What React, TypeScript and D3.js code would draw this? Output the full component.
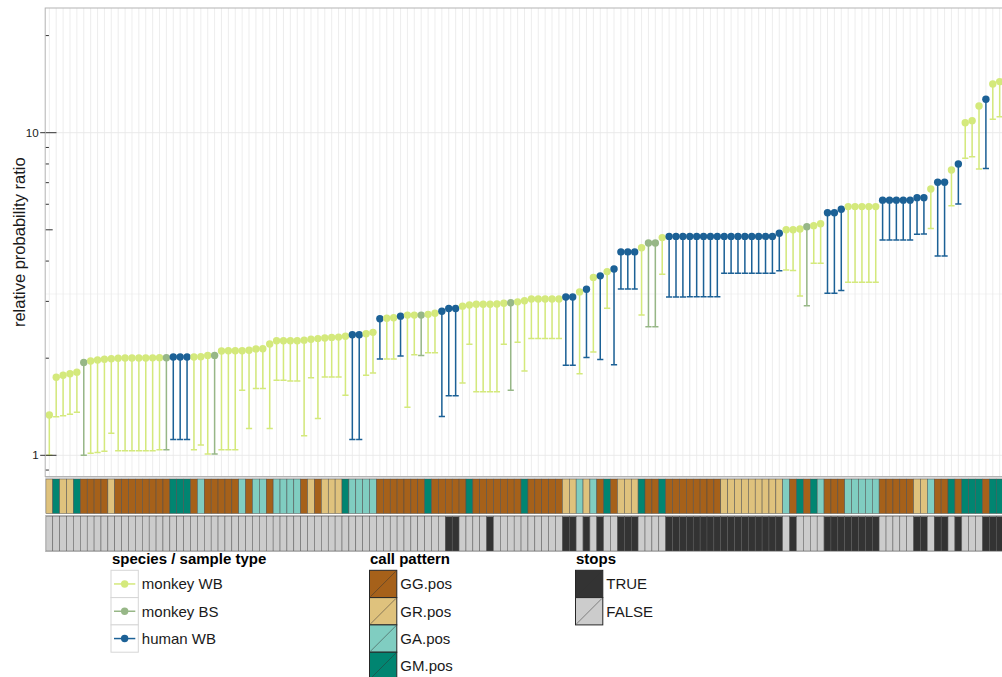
import * as d3 from "d3";

// ---- data ----
const speciesLevels = ["monkey WB", "monkey BS", "human WB"];
const speciesCodes = ["W", "B", "H"];
const speciesColors = ["#d4e97c", "#97b787", "#1c6196"];

const callLevels = ["GG.pos", "GR.pos", "GA.pos", "GM.pos"];
const callCodes = ["GG", "GR", "GA", "GM"];
const callColors = ["#a6611a", "#dfc27d", "#80cdc1", "#018571"];

const stopLevels = ["TRUE", "FALSE"];
const stopColors = ["#333333", "#cccccc"];

const yTickLabels = [1, 10];

const ratio = [
  1.333, 1.745, 1.77, 1.79, 1.81, 1.94, 1.96, 1.974, 1.984, 1.993,
  2.0, 2.003, 2.003, 2.003, 2.003, 2.005, 2.008, 2.007, 2.017, 2.017,
  2.017, 2.017, 2.02, 2.04, 2.04, 2.105, 2.11, 2.11, 2.11, 2.116,
  2.137, 2.14, 2.213, 2.266, 2.266, 2.265, 2.265, 2.275, 2.29, 2.3,
  2.31, 2.32, 2.325, 2.34, 2.365, 2.365, 2.38, 2.405, 2.65, 2.66,
  2.67, 2.7, 2.72, 2.72, 2.72, 2.735, 2.755, 2.795, 2.85, 2.85,
  2.9, 2.925, 2.94, 2.94, 2.94, 2.945, 2.96, 2.97, 2.99, 3.015,
  3.05, 3.05, 3.05, 3.05, 3.05, 3.095, 3.095, 3.21, 3.27, 3.56,
  3.6, 3.71, 3.78, 4.27, 4.27, 4.27, 4.4, 4.55, 4.55, 4.73,
  4.77, 4.77, 4.77, 4.77, 4.77, 4.77, 4.77, 4.77, 4.77, 4.77,
  4.77, 4.77, 4.77, 4.77, 4.77, 4.77, 4.88, 5.0, 5.0, 5.03,
  5.11, 5.15, 5.22, 5.65, 5.65, 5.79, 5.9, 5.9, 5.9, 5.9,
  5.9, 6.18, 6.18, 6.18, 6.18, 6.18, 6.29, 6.29, 6.69, 7.02,
  7.02, 7.66, 8.0, 10.74, 10.9, 12.1, 12.69, 14.16, 14.4,
];

const lower = [
  1.0, 1.317, 1.326, 1.34, 1.36, 1.0, 1.014, 1.02, 1.03, 1.17,
  1.033, 1.033, 1.033, 1.033, 1.033, 1.033, 1.04, 1.04, 1.12, 1.12,
  1.12, 1.04, 1.076, 1.01, 1.01, 1.04, 1.04, 1.04, 1.59, 1.21,
  1.61, 1.61, 1.21, 1.71, 1.71, 1.7, 1.7, 1.15, 1.74, 1.3,
  1.75, 1.75, 1.75, 1.535, 1.12, 1.12, 1.77, 1.8, 1.99, 1.99,
  1.99, 2.03, 1.41, 2.05, 2.04, 2.08, 2.08, 1.32, 1.53, 1.53,
  1.675, 2.21, 1.575, 1.575, 1.575, 1.575, 2.21, 1.59, 2.24, 1.825,
  2.3, 2.3, 2.3, 2.3, 2.3, 1.9, 1.9, 1.79, 2.01, 2.09,
  1.98, 2.855, 1.91, 3.28, 3.28, 3.28, 2.72, 2.505, 2.505, 3.64,
  3.095, 3.095, 3.095, 3.1, 3.1, 3.1, 3.1, 3.1, 3.665, 3.665,
  3.665, 3.665, 3.665, 3.665, 3.665, 3.665, 3.73, 3.75, 3.74, 3.12,
  2.91, 3.94, 3.94, 3.18, 3.18, 3.24, 3.44, 3.44, 3.44, 3.44,
  3.44, 4.65, 4.65, 4.65, 4.65, 4.65, 4.84, 4.85, 5.05, 4.15,
  4.15, 5.94, 6.01, 8.33, 8.43, 7.72, 7.74, 11.0, 11.2,
];

const species = [
  "W", "W", "W", "W", "W", "B", "W", "W", "W", "W",
  "W", "W", "W", "W", "W", "W", "W", "B", "H", "H",
  "H", "W", "W", "W", "B", "W", "W", "W", "W", "W",
  "W", "W", "W", "W", "W", "W", "W", "W", "W", "W",
  "W", "W", "W", "W", "H", "H", "W", "W", "H", "W",
  "W", "H", "W", "W", "B", "W", "W", "H", "H", "H",
  "W", "W", "W", "W", "W", "W", "W", "B", "W", "W",
  "W", "W", "W", "W", "W", "H", "H", "W", "H", "W",
  "H", "W", "H", "H", "H", "H", "W", "B", "B", "W",
  "H", "H", "H", "H", "H", "H", "H", "H", "H", "H",
  "H", "H", "H", "H", "H", "H", "H", "W", "W", "W",
  "B", "W", "W", "H", "H", "H", "W", "W", "W", "W",
  "W", "H", "H", "H", "H", "H", "H", "H", "W", "H",
  "H", "W", "H", "W", "W", "W", "H", "W", "W",
];

const callPattern = [
  "GR", "GM", "GR", "GR", "GM", "GG", "GG", "GG", "GG", "GR",
  "GG", "GG", "GG", "GG", "GG", "GG", "GG", "GG", "GM", "GM",
  "GM", "GG", "GA", "GG", "GG", "GG", "GG", "GG", "GA", "GG",
  "GA", "GA", "GG", "GA", "GA", "GA", "GA", "GG", "GR", "GG",
  "GR", "GR", "GR", "GM", "GA", "GA", "GA", "GA", "GG", "GG",
  "GG", "GG", "GG", "GG", "GG", "GM", "GG", "GG", "GG", "GG",
  "GG", "GM", "GG", "GG", "GG", "GG", "GG", "GG", "GG", "GM",
  "GG", "GG", "GG", "GG", "GG", "GR", "GR", "GA", "GR", "GA",
  "GG", "GM", "GG", "GR", "GR", "GR", "GM", "GG", "GG", "GM",
  "GG", "GG", "GG", "GG", "GG", "GG", "GG", "GG", "GR", "GR",
  "GR", "GR", "GR", "GR", "GR", "GR", "GR", "GA", "GG", "GM",
  "GG", "GM", "GA", "GG", "GG", "GG", "GA", "GA", "GA", "GA",
  "GA", "GG", "GG", "GG", "GG", "GG", "GR", "GR", "GA", "GG",
  "GG", "GM", "GG", "GM", "GM", "GM", "GG", "GM", "GM",
];

const stops = [
  "F", "F", "F", "F", "F", "F", "F", "F", "F", "F",
  "F", "F", "F", "F", "F", "F", "F", "F", "F", "F",
  "F", "F", "F", "F", "F", "F", "F", "F", "F", "F",
  "F", "F", "F", "F", "F", "F", "F", "F", "F", "F",
  "F", "F", "F", "F", "F", "F", "F", "F", "F", "F",
  "F", "F", "F", "F", "F", "F", "F", "F", "T", "T",
  "F", "F", "F", "F", "T", "F", "F", "F", "F", "F",
  "F", "F", "F", "F", "F", "T", "T", "F", "T", "F",
  "T", "F", "F", "T", "T", "T", "F", "F", "F", "F",
  "T", "T", "T", "T", "T", "T", "T", "T", "T", "T",
  "T", "T", "T", "T", "T", "T", "T", "F", "T", "F",
  "F", "F", "F", "T", "T", "T", "T", "T", "T", "T",
  "T", "F", "F", "F", "F", "F", "T", "T", "F", "T",
  "T", "F", "T", "F", "F", "F", "T", "T", "T",
];

const FONT = "'Liberation Sans', Arial, Helvetica, sans-serif";

function App() {
  const width = 1002;
  const height = 677;

  const panel = { left: 45.2, right: 1003.8, top: 8, bottom: 476.5 };
  const callRow = { top: 479, bottom: 513.5 };
  const stopRow = { top: 516.5, bottom: 551 };

  const idx = d3.range(ratio.length);
  const x = d3
    .scalePoint<number>()
    .domain(idx)
    .range([panel.left, panel.right])
    .padding(0.6);
  const step = x.step();

  const y = d3.scaleLog().domain([1, 10]).range([455.3, 132.7]);

  const sColor = d3.scaleOrdinal<string, string>().domain(speciesCodes).range(speciesColors);
  const cColor = d3.scaleOrdinal<string, string>().domain(callCodes).range(callColors);
  const tColor = d3.scaleOrdinal<string, string>().domain(["T", "F"]).range(stopColors);

  // log ticks drawn inside the panel (annotation_logticks style)
  const logTicks = [0.9, 1, 2, 3, 4, 5, 6, 7, 8, 9, 10, 20];
  const tickLen = (v: number) => {
    const l = Math.log10(v);
    if (Math.abs(l - Math.round(l)) < 1e-9) return 11.3;
    if (Math.abs(v / Math.pow(10, Math.floor(l)) - 5) < 1e-9) return 7.5;
    return 3.7;
  };
  const hGrid = [1, Math.sqrt(10), 10];

  const capW = step * 0.9;
  const dotR = 3.7;

  const keyX = 111;
  const keyTop = 570.3;
  const keyH = 27.3;

  return (
    <svg
      width={width}
      height={height}
      style={{ position: "absolute", left: 0, top: 0, background: "#fff" }}
      fontFamily={FONT}
    >
      <defs>
        <clipPath id="panelClip">
          <rect x={panel.left} y={panel.top} width={panel.right - panel.left} height={panel.bottom - panel.top} />
        </clipPath>
      </defs>

      {/* panel background + grid */}
      <rect x={panel.left} y={panel.top} width={panel.right - panel.left} height={panel.bottom - panel.top} fill="#fff" />
      <g clipPath="url(#panelClip)">
        {hGrid.map(v => (
          <line key={v} x1={panel.left} x2={panel.right} y1={y(v)} y2={y(v)} stroke="#ebebeb" strokeWidth={v === Math.sqrt(10) ? 0.6 : 1} />
        ))}
        {idx.map(i => (
          <line key={i} x1={x(i)} x2={x(i)} y1={panel.top} y2={panel.bottom} stroke="#e8e8e8" strokeWidth={0.8} />
        ))}

        {/* error bars */}
        {idx.map(i => {
          const c = sColor(species[i]);
          const cx = x(i)!;
          return (
            <g key={i} stroke={c} strokeWidth={1.5}>
              <line x1={cx} x2={cx} y1={y(lower[i])} y2={y(ratio[i])} />
              <line x1={cx - capW / 2} x2={cx + capW / 2} y1={y(lower[i])} y2={y(lower[i])} />
              <line x1={cx - capW / 2} x2={cx + capW / 2} y1={y(ratio[i])} y2={y(ratio[i])} />
            </g>
          );
        })}

        {/* points */}
        {idx.map(i => (
          <circle key={i} cx={x(i)} cy={y(ratio[i])} r={dotR} fill={sColor(species[i])} />
        ))}

        {/* log ticks */}
        {logTicks.map(v => (
          <line key={v} x1={panel.left} x2={panel.left + tickLen(v)} y1={y(v)} y2={y(v)} stroke="#333" strokeWidth={1} />
        ))}
      </g>
      <rect x={panel.left} y={panel.top} width={panel.right - panel.left} height={panel.bottom - panel.top} fill="none" stroke="#b3b3b3" strokeWidth={1} />

      {/* y axis */}
      {yTickLabels.map(v => (
        <g key={v}>
          <line x1={panel.left - 5} x2={panel.left} y1={y(v)} y2={y(v)} stroke="#333" strokeWidth={1} />
          <text x={panel.left - 6.5} y={y(v)} dy="0.35em" textAnchor="end" fontSize={11.6} fill="#1a1a1a">
            {v}
          </text>
        </g>
      ))}
      <text
        transform={`translate(19,${(panel.top + panel.bottom) / 2}) rotate(-90)`}
        textAnchor="middle"
        dy="0.35em"
        fontSize={16.5}
        fill="#1a1a1a"
      >
        relative probability ratio
      </text>

      {/* call pattern row */}
      <g>
        {idx.map(i => (
          <rect
            key={i}
            x={x(i)! - step / 2}
            y={callRow.top}
            width={step}
            height={callRow.bottom - callRow.top}
            fill={cColor(callPattern[i])}
            stroke="#4d4d4d"
            strokeWidth={0.5}
          />
        ))}
        <line x1={panel.left} x2={panel.right} y1={callRow.top - 1} y2={callRow.top - 1} stroke="#b3b3b3" strokeWidth={1} />
      </g>

      {/* stops row */}
      <g>
        {idx.map(i => (
          <rect
            key={i}
            x={x(i)! - step / 2}
            y={stopRow.top}
            width={step}
            height={stopRow.bottom - stopRow.top}
            fill={tColor(stops[i])}
            stroke="#5a5a5a"
            strokeWidth={0.5}
          />
        ))}
        <line x1={panel.left} x2={panel.right} y1={stopRow.top - 1} y2={stopRow.top - 1} stroke="#b3b3b3" strokeWidth={1} />
        <line x1={panel.left} x2={panel.right} y1={stopRow.bottom + 0.5} y2={stopRow.bottom + 0.5} stroke="#b3b3b3" strokeWidth={1} />
      </g>

      {/* legend: species */}
      <g>
        <text x={keyX + 1} y={563.5} fontSize={15} fontWeight="bold" fill="#000">
          species / sample type
        </text>
        {speciesLevels.map((lab, k) => {
          const ky = keyTop + k * keyH;
          const c = speciesColors[k];
          return (
            <g key={lab}>
              <rect x={keyX} y={ky} width={keyH} height={keyH} fill="#fff" stroke="#d6d6d6" strokeWidth={1} />
              <line x1={keyX + 3} x2={keyX + keyH - 3} y1={ky + keyH / 2} y2={ky + keyH / 2} stroke={c} strokeWidth={1.5} />
              <circle cx={keyX + keyH / 2} cy={ky + keyH / 2} r={dotR} fill={c} />
              <text x={keyX + keyH + 3.5} y={ky + keyH / 2} dy="0.36em" fontSize={15} fill="#1a1a1a">
                {lab}
              </text>
            </g>
          );
        })}
      </g>

      {/* legend: call pattern */}
      <FillLegend x={369.5} title="call pattern" labels={callLevels} colors={callColors} keyTop={keyTop} keyH={keyH} />

      {/* legend: stops */}
      <FillLegend x={575.5} title="stops" labels={stopLevels} colors={stopColors} keyTop={keyTop} keyH={keyH} />
    </svg>
  );
}

function FillLegend({ x, title, labels, colors, keyTop, keyH }: {
  x: number; title: string; labels: string[]; colors: string[]; keyTop: number; keyH: number;
}) {
  return (
    <g>
      <text x={x + 0.5} y={563.5} fontSize={15} fontWeight="bold" fill="#000" fontFamily={FONT}>
        {title}
      </text>
      {labels.map((lab, k) => {
        const ky = keyTop + k * keyH;
        return (
          <g key={lab}>
            <rect x={x} y={ky} width={keyH} height={keyH} fill={colors[k]} stroke="#262626" strokeWidth={1} />
            <line x1={x + 1} y1={ky + keyH - 1} x2={x + keyH - 1} y2={ky + 1} stroke="#333" strokeWidth={0.5} />
            <text x={x + keyH + 3.5} y={ky + keyH / 2} dy="0.36em" fontSize={15} fill="#1a1a1a" fontFamily={FONT}>
              {lab}
            </text>
          </g>
        );
      })}
    </g>
  );
}

export default App;
